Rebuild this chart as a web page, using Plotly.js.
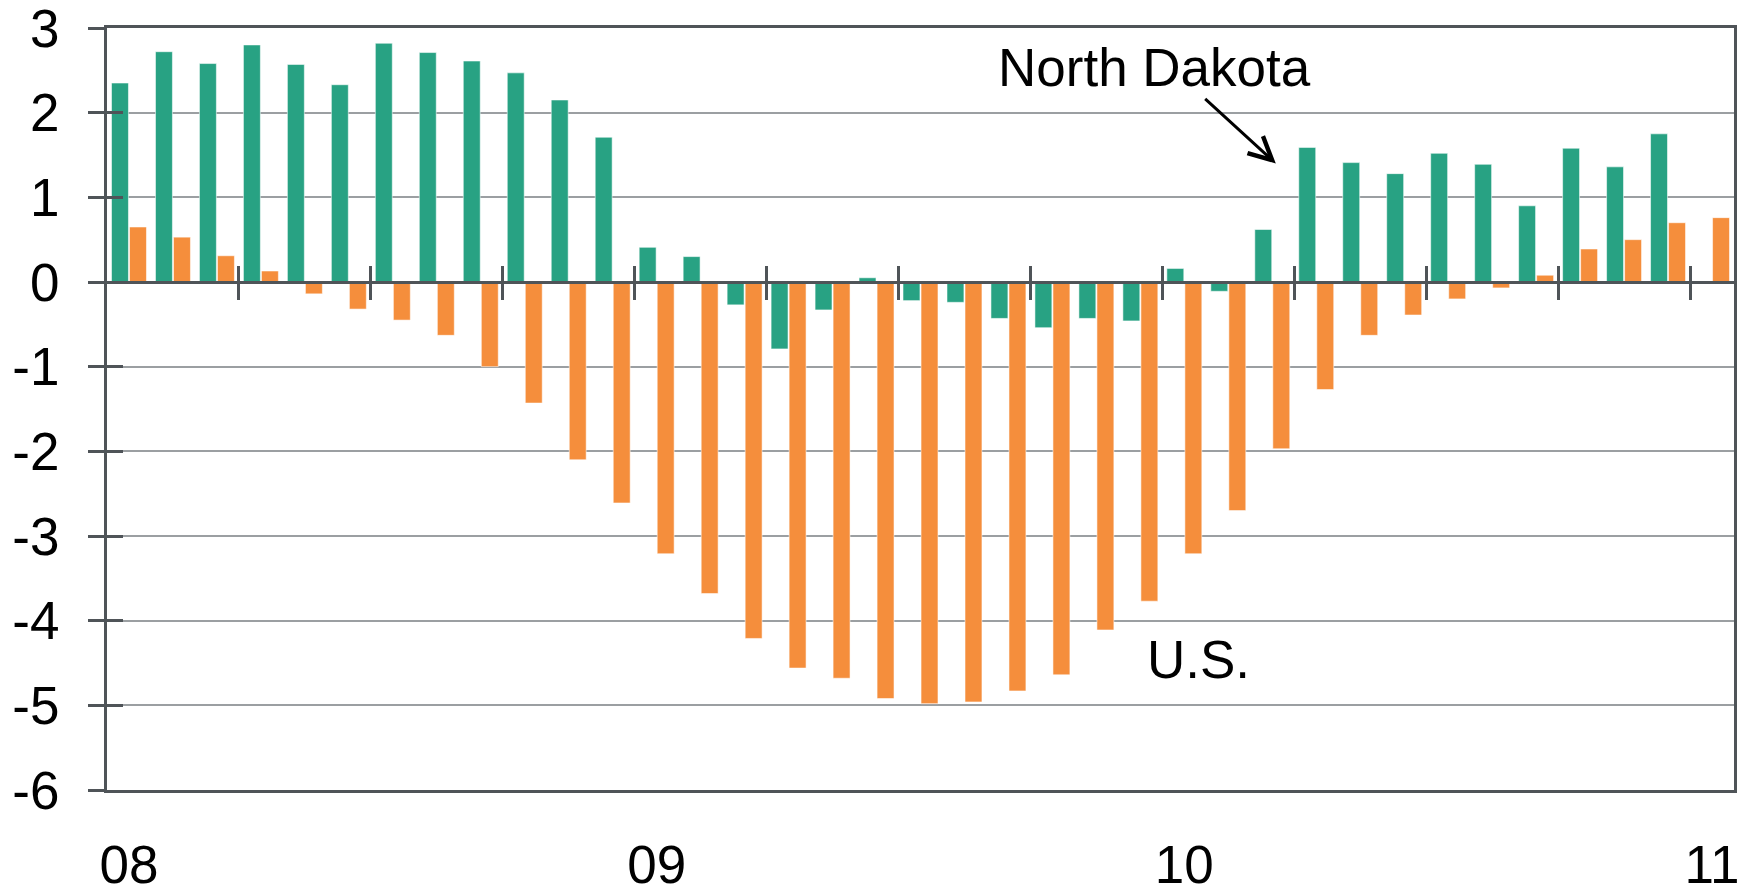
<!DOCTYPE html>
<html>
<head>
<meta charset="utf-8">
<script src="https://cdn.plot.ly/plotly-3.0.1.min.js"></script>
<style>html,body{margin:0;padding:0;background:#fff;}#chart{width:1746px;height:893px;}</style>
</head>
<body>
<div id="chart"></div>
<script>
// Months: Jan 2008 .. Jan 2011
const months = [
  '2008-01','2008-02','2008-03','2008-04','2008-05','2008-06','2008-07','2008-08','2008-09','2008-10','2008-11','2008-12',
  '2009-01','2009-02','2009-03','2009-04','2009-05','2009-06','2009-07','2009-08','2009-09','2009-10','2009-11','2009-12',
  '2010-01','2010-02','2010-03','2010-04','2010-05','2010-06','2010-07','2010-08','2010-09','2010-10','2010-11','2010-12',
  '2011-01'
];
const northDakota = [
  2.35, 2.72, 2.58, 2.80, 2.57, 2.33, 2.82, 2.71, 2.61, 2.47, 2.15, 1.71,
  0.41, 0.30, -0.27, -0.79, -0.33, 0.05, -0.22, -0.24, -0.43, -0.54, -0.43, -0.46,
  0.16, -0.11, 0.62, 1.59, 1.41, 1.28, 1.52, 1.39, 0.90, 1.58, 1.36, 1.75,
  null
];
const unitedStates = [
  0.65, 0.53, 0.31, 0.13, -0.14, -0.32, -0.45, -0.63, -1.00, -1.43, -2.10, -2.61,
  -3.21, -3.68, -4.21, -4.56, -4.68, -4.92, -4.98, -4.96, -4.83, -4.64, -4.11, -3.77,
  -3.21, -2.70, -1.97, -1.27, -0.63, -0.39, -0.20, -0.07, 0.08, 0.39, 0.50, 0.70,
  0.76
];
const yearTickLabels = ['08', '09', '10', '11'];
const yearTickMonths = ['2008-01', '2009-01', '2010-01', '2011-01'];
const yTickValues = [3, 2, 1, 0, -1, -2, -3, -4, -5, -6];
const yTickLabels = ['3', '2', '1', '0', '-1', '-2', '-3', '-4', '-5', '-6'];

const xIdx = months.map((m, i) => i);
const yearTickIdx = yearTickMonths.map(m => months.indexOf(m));
// quarter boundaries (tick marks on the zero line)
const quarterTicks = months.map((m, i) => i).filter(i => i > 0 && i % 3 === 0).map(i => i - 0.5);

const yMin = -6, yMax = 3;
const xRange = [-0.5, months.length - 0.5];
const zeroPos = (0 - yMin) / (yMax - yMin);

const dark = '#4f5458';
const grid = '#9b9fa2';
const font = 'Liberation Sans, Arial, Helvetica, sans-serif';
const fs = 53;

const traces = [
  {type: 'bar', name: 'North Dakota', x: xIdx, y: northDakota,
   marker: {color: '#28A283', line: {color: 'rgba(255,255,255,0.55)', width: 1}}, hoverinfo: 'y'},
  {type: 'bar', name: 'U.S.', x: xIdx, y: unitedStates,
   marker: {color: '#F58E3C', line: {color: 'rgba(255,255,255,0.55)', width: 1}}, hoverinfo: 'y'},
  // invisible helpers to anchor overlay axes (tick marks crossing zero line / y axis)
  {type: 'scatter', x: xIdx, y: unitedStates, xaxis: 'x2', yaxis: 'y', mode: 'markers',
   marker: {opacity: 0}, hoverinfo: 'skip', showlegend: false},
  {type: 'scatter', x: xIdx, y: unitedStates, xaxis: 'x3', yaxis: 'y', mode: 'markers',
   marker: {opacity: 0}, hoverinfo: 'skip', showlegend: false},
  {type: 'scatter', x: xIdx, y: unitedStates, xaxis: 'x', yaxis: 'y2', mode: 'markers',
   marker: {opacity: 0}, hoverinfo: 'skip', showlegend: false}
];

const layout = {
  width: 1746, height: 893,
  margin: {l: 107, r: 12, t: 28, b: 103, pad: 0},
  paper_bgcolor: '#ffffff', plot_bgcolor: '#ffffff',
  showlegend: false,
  barmode: 'group', bargap: 0.18, bargroupgap: 0.06,
  font: {family: font, size: fs, color: '#000'},
  xaxis: {
    range: xRange, tickmode: 'array', tickvals: yearTickIdx, ticktext: yearTickLabels,
    ticks: '', showgrid: false, zeroline: false,
    showline: true, mirror: true, linecolor: dark, linewidth: 3,
    tickfont: {family: font, size: fs, color: '#000'}, ticklabelstandoff: 26,
    ticklabeloverflow: 'allow'
  },
  xaxis2: {
    overlaying: 'x', anchor: 'free', position: zeroPos, side: 'bottom',
    range: xRange, tickmode: 'array', tickvals: quarterTicks,
    ticks: 'outside', ticklen: 16, tickwidth: 3, tickcolor: dark,
    showticklabels: false, showgrid: false, zeroline: false,
    showline: true, linecolor: dark, linewidth: 3, layer: 'above traces'
  },
  xaxis3: {
    overlaying: 'x', anchor: 'free', position: zeroPos, side: 'bottom',
    range: xRange, tickmode: 'array', tickvals: quarterTicks,
    ticks: 'inside', ticklen: 16, tickwidth: 3, tickcolor: dark,
    showticklabels: false, showgrid: false, zeroline: false, showline: false,
    layer: 'above traces'
  },
  yaxis: {
    range: [yMin, yMax], tickmode: 'array', tickvals: yTickValues, ticktext: yTickLabels,
    ticks: 'outside', ticklen: 16, tickwidth: 3, tickcolor: dark,
    showgrid: true, gridcolor: grid, gridwidth: 2, zeroline: false,
    showline: true, mirror: true, linecolor: dark, linewidth: 3,
    tickfont: {family: font, size: fs, color: '#000'}, ticklabelstandoff: 18,
    ticklabeloverflow: 'allow'
  },
  yaxis2: {
    overlaying: 'y', anchor: 'x', side: 'left',
    range: [yMin, yMax], tickmode: 'array', tickvals: yTickValues,
    ticks: 'inside', ticklen: 16, tickwidth: 3, tickcolor: dark,
    showticklabels: false, showgrid: false, zeroline: false, showline: false
  },
  annotations: [
    {text: 'North Dakota', x: 23.31, y: 2.53, xref: 'x', yref: 'y',
     showarrow: false, xanchor: 'center', yanchor: 'middle',
     font: {family: font, size: fs, color: '#000'}},
    {text: '', x: 26.08, y: 1.40, xref: 'x', yref: 'y',
     ax: 24.44, ay: 2.18, axref: 'x', ayref: 'y',
     showarrow: true, arrowhead: 5, arrowsize: 1.5, arrowwidth: 3, arrowcolor: '#000', standoff: 0},
    {text: 'U.S.', x: 24.32, y: -4.455, xref: 'x', yref: 'y',
     showarrow: false, xanchor: 'center', yanchor: 'middle',
     font: {family: font, size: fs, color: '#000'}}
  ]
};

Plotly.newPlot('chart', traces, layout, {displayModeBar: false, staticPlot: true});
</script>
</body>
</html>
